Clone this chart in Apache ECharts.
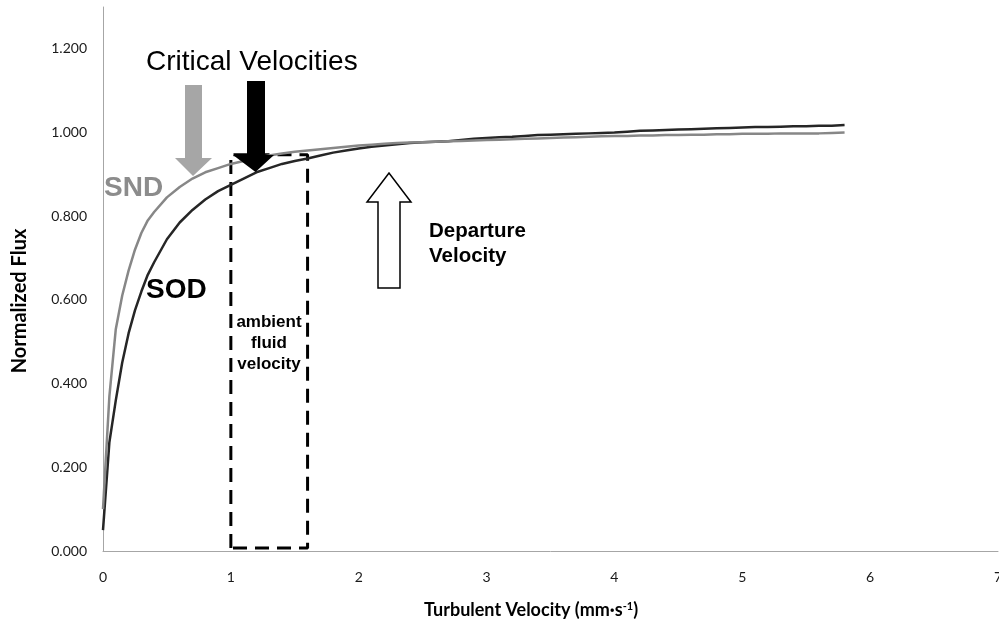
<!DOCTYPE html>
<html>
<head>
<meta charset="utf-8">
<script src="https://cdn.jsdelivr.net/npm/echarts@6/dist/echarts.min.js"></script>
<style>html,body{margin:0;padding:0;background:#fff;}#c{width:999px;height:624px;}</style>
</head>
<body>
<div id="c"></div>
<script>
// Turbulent velocity (mm/s) sample points
const velocity = [0, 0.05, 0.1, 0.15, 0.2, 0.25, 0.3, 0.35, 0.4, 0.5, 0.6, 0.7, 0.8, 0.9, 1.0, 1.1, 1.2, 1.3, 1.4, 1.5, 1.6, 1.7, 1.8, 1.9,
  2.0, 2.1, 2.2, 2.3, 2.4, 2.5, 2.6, 2.7, 2.8, 2.9, 3.0, 3.1, 3.2, 3.3, 3.4, 3.5, 3.6, 3.7, 3.8, 3.9,
  4.0, 4.1, 4.2, 4.3, 4.4, 4.5, 4.6, 4.7, 4.8, 4.9, 5.0, 5.1, 5.2, 5.3, 5.4, 5.5, 5.6, 5.7, 5.8];
// Normalized flux, SOD
const sodFlux = [0.05, 0.26, 0.36, 0.45, 0.52, 0.575, 0.62, 0.66, 0.69, 0.745, 0.785, 0.815, 0.84, 0.86, 0.875, 0.89, 0.905, 0.915, 0.925, 0.932, 0.938, 0.945, 0.952, 0.957,
  0.962, 0.966, 0.969, 0.972, 0.975, 0.977, 0.978, 0.979, 0.982, 0.985, 0.987, 0.989, 0.990, 0.992, 0.994, 0.995, 0.996, 0.997, 0.998, 0.999,
  1.000, 1.002, 1.004, 1.005, 1.006, 1.007, 1.008, 1.009, 1.010, 1.011, 1.012, 1.013, 1.013, 1.014, 1.015, 1.015, 1.016, 1.016, 1.018];
// Normalized flux, SND
const sndFlux = [0.10, 0.37, 0.53, 0.61, 0.67, 0.72, 0.76, 0.79, 0.81, 0.845, 0.87, 0.89, 0.905, 0.915, 0.925, 0.932, 0.940, 0.945, 0.950, 0.954, 0.957, 0.960, 0.963, 0.966,
  0.969, 0.971, 0.973, 0.975, 0.976, 0.977, 0.978, 0.979, 0.980, 0.981, 0.982, 0.983, 0.984, 0.985, 0.986, 0.987, 0.988, 0.989, 0.990, 0.991,
  0.992, 0.992, 0.993, 0.993, 0.994, 0.994, 0.995, 0.995, 0.996, 0.996, 0.997, 0.997, 0.997, 0.998, 0.998, 0.998, 0.998, 0.999, 1.000];
// Ambient fluid velocity box (x range, y range)
const boxX = [1.0, 1.6];
const boxY = [0.007, 0.947];
const yTicks = ['0.000', '0.200', '0.400', '0.600', '0.800', '1.000', '1.200'];
const xTicks = ['0', '1', '2', '3', '4', '5', '6', '7'];

const sodData = velocity.map((v, i) => [v, sodFlux[i]]);
const sndData = velocity.map((v, i) => [v, sndFlux[i]]);
const boxData = [[boxX[0], boxY[0]], [boxX[0], boxY[1]], [boxX[1], boxY[1]], [boxX[1], boxY[0]], [boxX[0], boxY[0]]];

const axisFont = 'Lato, "Open Sans", sans-serif';
const annFont = '"Liberation Sans", Arial, sans-serif';

const chart = echarts.init(document.getElementById('c'), null, {renderer: 'canvas'});
chart.setOption({
  animation: false,
  backgroundColor: '#ffffff',
  grid: {left: 103, right: 1, top: 7, bottom: 73, containLabel: false, outerBoundsMode: 'none'},
  xAxis: {
    type: 'value', min: 0, max: 7, interval: 1,
    axisLine: {show: true, lineStyle: {color: '#a6a6a6', width: 1}},
    axisTick: {show: false},
    splitLine: {show: false},
    axisLabel: {color: '#1a1a1a', fontFamily: axisFont, fontSize: 14, margin: 19,
      formatter: v => xTicks[Math.round(v)] }
  },
  yAxis: {
    type: 'value', min: 0, max: 1.3, interval: 0.2,
    axisLine: {show: true, lineStyle: {color: '#a6a6a6', width: 1}},
    axisTick: {show: false},
    splitLine: {show: false},
    axisLabel: {color: '#1a1a1a', fontFamily: axisFont, fontSize: 14, margin: 16, showMaxLabel: false,
      formatter: v => { const i = Math.round(v / 0.2); return (Math.abs(v - i * 0.2) < 1e-6 && yTicks[i]) ? yTicks[i] : ''; } }
  },
  series: [
    {name: 'Box', type: 'line', data: boxData, showSymbol: false, silent: true, z: 1,
      lineStyle: {color: '#000', width: 3, type: [14, 8]}},
    {name: 'SOD', type: 'line', data: sodData, showSymbol: false, smooth: false, z: 2,
      lineStyle: {color: '#262626', width: 2.5, join: 'round'}},
    {name: 'SND', type: 'line', data: sndData, showSymbol: false, smooth: false, z: 3,
      lineStyle: {color: '#878787', width: 2.5, join: 'round'}}
  ],
  graphic: [
    // gray down arrow
    {type: 'polygon', z: 10, shape: {points: [[185, 85], [202, 85], [202, 158], [212, 158], [193, 176], [175, 158], [185, 158]]},
      style: {fill: '#a6a6a6'}},
    // black down arrow
    {type: 'polygon', z: 10, shape: {points: [[247, 81], [265, 81], [265, 155], [274, 155], [255.5, 172], [233, 155], [247, 155]]},
      style: {fill: '#000000'}},
    // white up arrow
    {type: 'polygon', z: 10, shape: {points: [[378, 288], [400, 288], [400, 202], [411, 202], [389, 173], [367, 202], [378, 202]]},
      style: {fill: '#ffffff', stroke: '#000000', lineWidth: 1.5}},
    {type: 'text', z: 10, left: 146, top: 48, style: {text: 'Critical Velocities', font: '28px ' + annFont, fill: '#000'}},
    {type: 'text', z: 10, left: 104, top: 174, style: {text: 'SND', font: 'bold 28px ' + annFont, fill: '#8c8c8c'}},
    {type: 'text', z: 10, left: 146, top: 276, style: {text: 'SOD', font: 'bold 28px ' + annFont, fill: '#000'}},
    {type: 'text', z: 10, x: 269, y: 312, style: {text: 'ambient\nfluid\nvelocity', font: 'bold 17px ' + annFont, fill: '#000', align: 'center', lineHeight: 21}},
    {type: 'text', z: 10, left: 429, top: 219, style: {text: 'Departure\nVelocity', font: 'bold 20.5px ' + annFont, fill: '#000', lineHeight: 25}},
    // axis titles
    {type: 'text', z: 10, x: 20, y: 301, rotation: Math.PI / 2,
      style: {text: 'Normalized Flux', font: 'bold 20px ' + axisFont, fill: '#000', align: 'center', verticalAlign: 'middle'}},
    {type: 'text', z: 10, x: 531, y: 610,
      style: {text: '{t|Turbulent Velocity (mm·s}{s|-1}{t|)}', align: 'center', verticalAlign: 'middle',
        rich: {t: {font: 'bold 18px ' + axisFont, color: '#000'}, s: {font: 'bold 11px ' + axisFont, color: '#000', verticalAlign: 'top', padding: [0, 0, 7, 0]}}}}
  ]
});
</script>
</body>
</html>
